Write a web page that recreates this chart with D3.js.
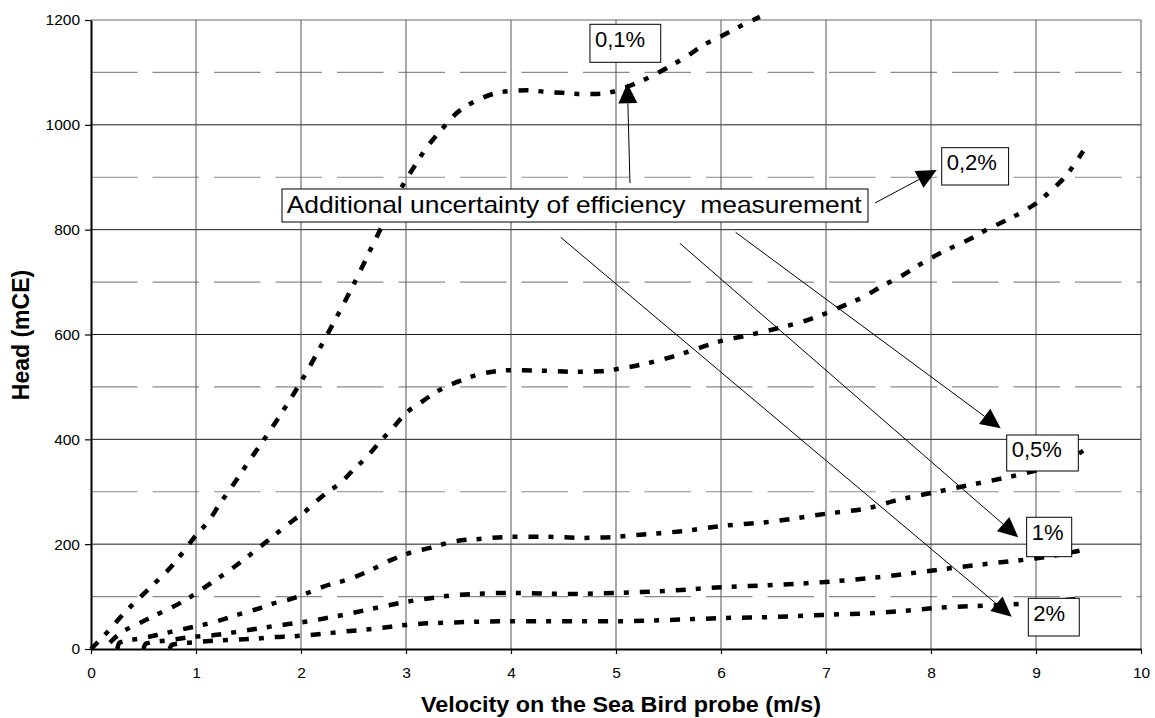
<!DOCTYPE html>
<html><head><meta charset="utf-8">
<script src="https://cdn.jsdelivr.net/npm/d3@7/dist/d3.min.js"></script>
<style>
body{margin:0;background:#fff;}
svg{display:block;}
text{font-family:"Liberation Sans",Arial,Helvetica,sans-serif;fill:#000;}
</style>
</head><body>
<svg id="chart" width="1155" height="718"></svg>
<script>
// ---------- data ----------
const xTicks = [0,1,2,3,4,5,6,7,8,9,10];
const yTicks = [0,200,400,600,800,1000,1200];
const yMinorGrid = [100,300,500,700,900,1100];
const seriesLabels = ["0,1%","0,2%","0,5%","1%","2%"];

const vel01 = [0,0.15,0.3,0.47,0.61,0.75,0.87,1.0,1.12,1.23,1.34,1.48,1.75,2.0,2.25,2.5,2.73,2.97,3.1,3.18,3.27,3.36,3.48,3.61,3.72,3.83,4.02,4.16,4.32,4.49,4.64,4.82,4.97,5.15,5.32,5.48,5.66,5.85,6.02,6.2,6.37];
const head01 = [0,31,65,99,126,154,183,217,244,278,309,351,430,510,600,695,790,885,927,952,975,996,1022,1040,1051,1059,1065,1066,1063,1061,1059,1059,1063,1076,1091,1108,1129,1154,1171,1190,1206];

const vel02 = [0.18,0.26,0.47,0.64,0.87,1.02,1.16,1.34,1.51,1.66,1.93,2.02,2.13,2.23,2.37,2.5,2.63,2.75,2.88,2.99,3.16,3.3,3.48,3.7,4.0,4.3,4.6,4.85,5.01,5.18,5.36,5.56,5.76,5.97,6.22,6.4,6.62,6.8,6.98,7.18,7.36,7.53,7.73,7.89,8.02,8.19,8.39,8.56,8.72,8.87,9.02,9.15,9.25,9.35,9.45];
const head02 = [12,27,50,67,90,109,128,153,179,203,246,259,279,296,316,342,367,395,423,448,473,492,509,524,532,531,529,530,534,540,548,559,572,586,597,605,616,626,639,656,672,692,713,733,748,765,784,803,818,834,853,876,895,920,950];

const vel05 = [0.25,0.27,0.5,0.68,0.88,1.02,1.2,1.39,1.58,1.74,1.9,2.04,2.2,2.48,2.69,2.86,3.0,3.23,3.48,3.7,4.02,4.34,4.69,5.0,5.23,5.42,5.64,6.02,6.43,7.0,7.45,7.64,8.06,8.37,8.69,8.91,9.2,9.45];
const head05 = [0,12,21,29,38,44,53,65,76,87,95,105,118,135,153,170,181,193,206,210,214,214,212,214,218,221,225,235,242,258,271,282,300,313,326,336,352,378];

const vel1 = [0.5,0.52,0.75,0.96,1.2,1.4,1.59,1.75,1.9,2.04,2.4,2.75,3.0,3.23,3.48,4.02,4.53,5.0,5.49,6.02,6.5,7.0,7.5,8.18,8.69,9.04,9.45];
const head1 = [0,10,17,23,27,33,39,44,48,52,65,80,90,97,103,107,105,107,111,118,122,128,137,154,166,174,189];

const vel2 = [0.75,0.77,0.99,1.2,1.4,1.59,1.75,1.9,2.04,2.4,2.75,3.0,3.51,4.02,5.0,5.73,6.02,6.5,6.97,7.49,8.18,8.69,9.45];
const head2 = [0,8,13,16,18,20,23,24,26,33,40,46,51,53,53,57,59,61,65,69,80,84,97];

const xTitle = "Velocity on the Sea Bird probe (m/s)";
const yTitle = "Head (mCE)";
const noteText = "Additional uncertainty of efficiency\u00A0 measurement";

// annotation anchors in data units (velocity, head)
const noteBox = {v1:1.819, v2:7.40, hTop:877.6, hBot:814.6};
const labelBoxes = [
  {text:"0,1%", v1:4.752, v2:5.426, hTop:1191.8, hBot:1119.3},
  {text:"0,2%", v1:8.102, v2:8.739, hTop:956.4, hBot:885.2},
  {text:"0,5%", v1:8.721, v2:9.403, hTop:408.3, hBot:339.6},
  {text:"1%",   v1:8.911, v2:9.340, hTop:251.3, hBot:176.1},
  {text:"2%",   v1:8.927, v2:9.412, hTop:96.7,  hBot:24.8}
];
const arrows = [
  {v1:5.133, h1:889.0, v2:5.108, h2:1079.2},
  {v1:7.467, h1:850.9, v2:8.054, h2:913.8},
  {v1:6.139, h1:795.0, v2:8.664, h2:421.1},
  {v1:5.608, h1:774.0, v2:8.831, h2:213.1},
  {v1:4.473, h1:785.4, v2:8.769, h2:61.6}
];

// ---------- chart ----------
const svg = d3.select("#chart");
const L = 91, R = 1141, T = 20, B = 649;
const x = d3.scaleLinear().domain([0,10]).range([L,R]);
const y = d3.scaleLinear().domain([0,1200]).range([B,T]);

// grid
const grid = svg.append("g");
grid.selectAll("line.minor").data(yMinorGrid).join("line")
  .attr("x1",L).attr("x2",R).attr("y1",d=>y(d)).attr("y2",d=>y(d))
  .attr("stroke","#8a8a8a").attr("stroke-width",1.2).attr("stroke-dasharray","46.5,15");
grid.selectAll("line.major").data(yTicks.filter(d=>d>0 && d<1200)).join("line")
  .attr("x1",L).attr("x2",R).attr("y1",d=>y(d)).attr("y2",d=>y(d))
  .attr("stroke","#1a1a1a").attr("stroke-width",1);
grid.append("line").attr("x1",L).attr("x2",R).attr("y1",y(1200)).attr("y2",y(1200))
  .attr("stroke","#9a9a9a").attr("stroke-width",1.6);
grid.selectAll("line.vert").data(xTicks.filter(d=>d>0)).join("line")
  .attr("x1",d=>x(d)).attr("x2",d=>x(d)).attr("y1",T).attr("y2",B)
  .attr("stroke","#555").attr("stroke-width",1);

// curves
const series = [
  {v:vel01,h:head01},{v:vel02,h:head02},{v:vel05,h:head05},{v:vel1,h:head1},{v:vel2,h:head2}
];
const line = d3.line().x(d=>x(d[0])).y(d=>y(d[1])).curve(d3.curveMonotoneX);
svg.append("g").selectAll("path").data(series).join("path")
  .attr("d",s=>line(s.v.map((v,i)=>[v,s.h[i]])))
  .attr("fill","none").attr("stroke","#000").attr("stroke-width",4.5)
  .attr("stroke-dasharray","10,10,5,11");

// axes
const yAxis = d3.axisLeft(y).tickValues(yTicks).tickFormat(d3.format("d")).tickSizeInner(6).tickSizeOuter(0).tickPadding(5);
const xAxis = d3.axisBottom(x).tickValues(xTicks).tickFormat(d3.format("d")).tickSizeInner(5).tickSizeOuter(0).tickPadding(12.7);
const gy = svg.append("g").attr("transform",`translate(${L},0)`).call(yAxis);
const gx = svg.append("g").attr("transform",`translate(0,${B})`).call(xAxis);
[gx,gy].forEach(g=>{
  g.select(".domain").attr("stroke","#000").attr("stroke-width",2);
  g.selectAll(".tick line").attr("stroke","#000").attr("stroke-width",1.2);
  g.selectAll(".tick text").attr("font-family","'Liberation Sans',Arial,sans-serif")
    .attr("font-size",15.5).attr("fill","#000");
});

// axis titles
svg.append("text").attr("x",621).attr("y",711.5).attr("text-anchor","middle")
  .attr("font-size",21.5).attr("font-weight","bold")
  .attr("textLength",400).attr("lengthAdjust","spacingAndGlyphs").text(xTitle);
svg.append("text").attr("transform","translate(28.5,335) rotate(-90)").attr("text-anchor","middle")
  .attr("font-size",23).attr("font-weight","bold").text(yTitle);

// arrows
const ann = svg.append("g");
arrows.forEach(a=>{
  const x1=x(a.v1), y1=y(a.h1), x2=x(a.v2), y2=y(a.h2);
  const dx=x2-x1, dy=y2-y1, len=Math.hypot(dx,dy), ux=dx/len, uy=dy/len;
  const hl=20, hw=19;
  const bx=x2-ux*hl, by=y2-uy*hl;
  ann.append("line").attr("x1",x1).attr("y1",y1).attr("x2",bx).attr("y2",by)
    .attr("stroke","#000").attr("stroke-width",1);
  ann.append("path").attr("d",`M${x2},${y2}L${bx-uy*hw/2},${by+ux*hw/2}L${bx+uy*hw/2},${by-ux*hw/2}Z`)
    .attr("fill","#000");
});

// note box
ann.append("rect").attr("x",x(noteBox.v1)).attr("y",y(noteBox.hTop))
  .attr("width",x(noteBox.v2)-x(noteBox.v1)).attr("height",y(noteBox.hBot)-y(noteBox.hTop))
  .attr("fill","#fff").attr("stroke","#000").attr("stroke-width",1);
ann.append("text").attr("x",x(noteBox.v1)+4.7).attr("y",y(noteBox.hTop)+24.3)
  .attr("font-size",24).attr("textLength",575).attr("lengthAdjust","spacingAndGlyphs").text(noteText);

// label boxes
labelBoxes.forEach(b=>{
  ann.append("rect").attr("x",x(b.v1)).attr("y",y(b.hTop))
    .attr("width",x(b.v2)-x(b.v1)).attr("height",y(b.hBot)-y(b.hTop))
    .attr("fill","#fff").attr("stroke","#000").attr("stroke-width",1);
  ann.append("text").attr("x",x(b.v1)+5).attr("y",y(b.hTop)+22.3)
    .attr("font-size",22).text(b.text);
});
</script>
</body></html>
